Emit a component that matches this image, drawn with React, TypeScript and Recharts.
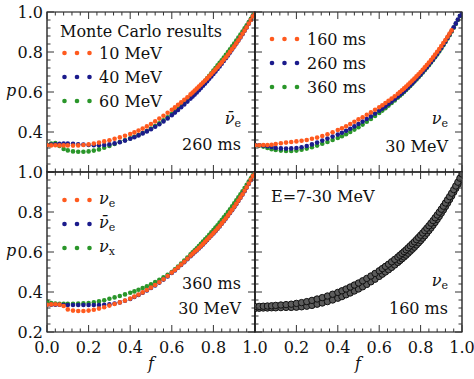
import React from 'react'
import { ScatterChart, Scatter, XAxis, YAxis, ReferenceArea } from 'recharts'

const W = 474
const H = 379
const FONT = '"DejaVu Serif", serif'
const TICK = '#333'

const ORANGE = '#ff5a1e'
const BLUE = '#1b1b8c'
const GREEN = '#2a962a'

// flux factor f at which the Monte Carlo moments are sampled
const F_VALUES = [
  0, 0.02, 0.04, 0.06, 0.08, 0.1, 0.125, 0.15, 0.175,
  0.2, 0.225, 0.25, 0.275, 0.3, 0.325, 0.35, 0.375, 0.4,
  0.42, 0.44, 0.46, 0.48, 0.5, 0.52, 0.54, 0.56, 0.58, 0.6,
  0.615, 0.63, 0.645, 0.66, 0.675, 0.69, 0.7,
  0.71, 0.72, 0.73, 0.74, 0.75, 0.76, 0.77, 0.78, 0.79, 0.8, 0.81, 0.82, 0.83, 0.84, 0.85,
  0.86, 0.87, 0.88, 0.89, 0.9, 0.91, 0.92, 0.93, 0.94, 0.95, 0.96, 0.97, 0.98, 0.99, 1,
]

const X_TICKS = [0, 0.04, 0.08, 0.12, 0.16, 0.2, 0.24, 0.28, 0.32, 0.36, 0.4, 0.44, 0.48, 0.52, 0.56, 0.6, 0.64, 0.68, 0.72, 0.76, 0.8, 0.84, 0.88, 0.92, 0.96, 1]
const Y_TICKS = [0.2, 0.24, 0.28, 0.32, 0.36, 0.4, 0.44, 0.48, 0.52, 0.56, 0.6, 0.64, 0.68, 0.72, 0.76, 0.8, 0.84, 0.88, 0.92, 0.96, 1]

// top left: anti-electron neutrinos, 260 ms, by energy
const TL_10MEV = [
  0.334, 0.333, 0.334, 0.333, 0.333, 0.333, 0.332, 0.333, 0.335,
  0.338, 0.342, 0.347, 0.353, 0.359, 0.366, 0.373, 0.381, 0.39,
  0.398, 0.407, 0.417, 0.428, 0.44, 0.453, 0.467, 0.481, 0.496, 0.511,
  0.523, 0.536, 0.548, 0.561, 0.574, 0.588, 0.597,
  0.607, 0.617, 0.627, 0.637, 0.647, 0.657, 0.668, 0.679, 0.69, 0.701, 0.712, 0.724, 0.736, 0.748, 0.761,
  0.774, 0.787, 0.801, 0.815, 0.829, 0.844, 0.859, 0.875, 0.891, 0.907, 0.924, 0.942, 0.96, 0.979, 0.998,
]
const TL_40MEV = [
  0.335, 0.337, 0.339, 0.341, 0.342, 0.342, 0.341, 0.339, 0.337,
  0.335, 0.334, 0.334, 0.335, 0.338, 0.343, 0.349, 0.357, 0.366,
  0.374, 0.383, 0.393, 0.403, 0.414, 0.426, 0.439, 0.453, 0.468, 0.484,
  0.497, 0.51, 0.524, 0.538, 0.552, 0.567, 0.577,
  0.587, 0.598, 0.609, 0.62, 0.631, 0.642, 0.654, 0.666, 0.678, 0.69, 0.702, 0.715, 0.728, 0.741, 0.755,
  0.769, 0.783, 0.797, 0.812, 0.827, 0.842, 0.857, 0.873, 0.889, 0.906, 0.923, 0.941, 0.96, 0.979, 0.998,
]
const TL_60MEV = [
  0.336, 0.342, 0.345, 0.33, 0.315, 0.308, 0.303, 0.301, 0.301,
  0.303, 0.307, 0.313, 0.321, 0.33, 0.34, 0.35, 0.359, 0.368,
  0.376, 0.385, 0.395, 0.405, 0.417, 0.43, 0.444, 0.459, 0.474, 0.49,
  0.503, 0.517, 0.531, 0.546, 0.561, 0.576, 0.587,
  0.598, 0.609, 0.62, 0.632, 0.644, 0.656, 0.668, 0.681, 0.694, 0.707, 0.72, 0.733, 0.746, 0.759, 0.772,
  0.786, 0.8, 0.814, 0.828, 0.842, 0.857, 0.872, 0.887, 0.902, 0.918, 0.934, 0.95, 0.966, 0.983, 1,
]

// top right: electron neutrinos, 30 MeV, by time
const TR_160MS = [
  0.334, 0.334, 0.335, 0.335, 0.336, 0.34, 0.344, 0.347, 0.35,
  0.353, 0.356, 0.36, 0.366, 0.372, 0.38, 0.389, 0.399, 0.41,
  0.419, 0.429, 0.44, 0.451, 0.463, 0.474, 0.486, 0.498, 0.511, 0.524,
  0.534, 0.545, 0.556, 0.567, 0.579, 0.591, 0.6,
  0.609, 0.618, 0.627, 0.637, 0.647, 0.657, 0.667, 0.678, 0.689, 0.7, 0.711, 0.723, 0.735, 0.747, 0.76,
  0.773, 0.787, 0.801, 0.815, 0.83, 0.845, 0.86, 0.876, 0.892, 0.908, null, null, null, null, null,
]
const TR_260MS = [
  0.335, 0.334, 0.332, 0.329, 0.325, 0.32, 0.318, 0.317, 0.318,
  0.32, 0.324, 0.33, 0.338, 0.347, 0.357, 0.367, 0.377, 0.387,
  0.396, 0.406, 0.416, 0.428, 0.44, 0.452, 0.465, 0.478, 0.492, 0.506,
  0.517, 0.528, 0.54, 0.552, 0.564, 0.577, 0.586,
  0.595, 0.604, 0.614, 0.624, 0.634, 0.644, 0.655, 0.666, 0.677, 0.688, 0.7, 0.712, 0.724, 0.737, 0.75,
  0.763, 0.777, 0.791, 0.806, 0.821, 0.837, 0.853, 0.87, 0.887, 0.905, 0.924, 0.943, 0.962, 0.981, 1,
]
const TR_360MS = [
  0.335, 0.332, 0.327, 0.32, 0.314, 0.31, 0.307, 0.305, 0.305,
  0.307, 0.311, 0.317, 0.324, 0.332, 0.341, 0.35, 0.36, 0.37,
  0.379, 0.389, 0.4, 0.412, 0.424, 0.437, 0.451, 0.465, 0.48, 0.495,
  0.507, 0.519, 0.532, 0.545, 0.558, 0.572, 0.581,
  0.59, 0.6, 0.61, 0.62, 0.63, 0.641, 0.652, 0.663, 0.674, 0.685, 0.697, 0.709, 0.721, 0.734, 0.747,
  0.76, 0.774, 0.788, 0.803, 0.818, 0.834, 0.85, 0.867, 0.884, 0.902, 0.921, 0.94, 0.96, 0.98, 1,
]

// bottom left: 360 ms, 30 MeV, by flavour
const BL_NUE = [
  0.336, 0.338, 0.339, 0.337, 0.33, 0.313, 0.307, 0.305, 0.305,
  0.307, 0.311, 0.317, 0.324, 0.332, 0.34, 0.348, 0.357, 0.367,
  0.377, 0.387, 0.398, 0.41, 0.422, 0.435, 0.449, 0.464, 0.48, 0.497,
  0.51, 0.523, 0.537, 0.551, 0.566, 0.581, 0.591,
  0.601, 0.61, 0.62, 0.63, 0.64, 0.651, 0.662, 0.673, 0.684, 0.695, 0.706, 0.718, 0.73, 0.743, 0.756,
  0.769, 0.783, 0.797, 0.811, 0.826, 0.841, 0.857, 0.873, 0.889, 0.906, 0.924, 0.942, 0.961, 0.98, 1,
]
const BL_NUEBAR = [
  0.336, 0.336, 0.336, 0.336, 0.335, 0.335, 0.335, 0.335, 0.335,
  0.335, 0.335, 0.335, 0.336, 0.338, 0.342, 0.348, 0.356, 0.365,
  0.375, 0.385, 0.396, 0.408, 0.42, 0.433, 0.447, 0.462, 0.478, 0.495,
  0.508, 0.521, 0.535, 0.549, 0.564, 0.579, 0.589,
  0.599, 0.608, 0.618, 0.628, 0.638, 0.649, 0.66, 0.671, 0.682, 0.693, 0.704, 0.716, 0.728, 0.741, 0.754,
  0.767, 0.781, 0.795, 0.809, 0.824, 0.839, 0.855, 0.871, 0.887, 0.904, 0.922, 0.94, 0.959, 0.979, 0.998,
]
const BL_NUX = [
  0.352, 0.345, 0.342, 0.341, 0.341, 0.341, 0.341, 0.342, 0.343,
  0.345, 0.348, 0.353, 0.359, 0.366, 0.373, 0.38, 0.388, 0.396,
  0.403, 0.411, 0.42, 0.429, 0.439, 0.45, 0.461, 0.473, 0.486, 0.5,
  0.513, 0.527, 0.542, 0.557, 0.572, 0.588, 0.598,
  0.609, 0.619, 0.63, 0.641, 0.652, 0.663, 0.674, 0.686, 0.698, 0.71, 0.722, 0.734, 0.747, 0.76, 0.773,
  0.786, 0.8, 0.814, 0.828, 0.843, 0.858, 0.873, 0.888, 0.904, 0.92, 0.936, 0.952, 0.968, 0.984, 1,
]

// bottom right: electron neutrinos, 160 ms, E = 7-30 MeV (edges of the band)
const BR_LOW = [
  0.318, 0.319, 0.32, 0.32, 0.321, 0.321, 0.322, 0.323, 0.323,
  0.324, 0.326, 0.329, 0.333, 0.339, 0.345, 0.352, 0.36, 0.369,
  0.377, 0.386, 0.395, 0.405, 0.415, 0.426, 0.438, 0.451, 0.464, 0.478,
  0.489, 0.5, 0.511, 0.523, 0.535, 0.548, 0.557,
  0.566, 0.575, 0.584, 0.594, 0.604, 0.614, 0.624, 0.635, 0.646, 0.657, 0.669, 0.681, 0.694, 0.707, 0.72,
  0.734, 0.748, 0.763, 0.778, 0.794, 0.81, 0.827, 0.844, 0.862, 0.88, 0.899, 0.918, 0.938, 0.959, 0.98,
]
const BR_HIGH = [
  0.327, 0.328, 0.329, 0.33, 0.331, 0.333, 0.335, 0.337, 0.339,
  0.343, 0.347, 0.352, 0.358, 0.365, 0.372, 0.38, 0.389, 0.398,
  0.406, 0.415, 0.425, 0.435, 0.445, 0.456, 0.468, 0.48, 0.493, 0.506,
  0.517, 0.528, 0.539, 0.551, 0.563, 0.575, 0.584,
  0.593, 0.602, 0.611, 0.621, 0.631, 0.641, 0.651, 0.662, 0.673, 0.684, 0.695, 0.707, 0.719, 0.731, 0.744,
  0.757, 0.771, 0.785, 0.799, 0.814, 0.829, 0.845, 0.861, 0.877, 0.894, 0.912, 0.93, 0.949, 0.969, 0.99,
]

type Box = { left: number; top: number; width: number; height: number }

const BOX_TL: Box = { left: 47, top: 12, width: 208, height: 160 }
const BOX_TR: Box = { left: 255, top: 12, width: 207, height: 160 }
const BOX_BL: Box = { left: 47, top: 172, width: 208, height: 160 }
const BOX_BR: Box = { left: 255, top: 172, width: 207, height: 160 }

const toPoints = (ps: (number | null)[]) =>
  F_VALUES.map((f, i) => ({ f, p: ps[i] })).filter((d) => d.p != null)

const isMajor = (v: number) => Math.abs(v * 5 - Math.round(v * 5)) < 1e-6
const same = (a: number, b: number) => Math.abs(a - b) < 1e-6

// ticks point inward, drawn on both opposite sides of the panel
function xTick(h: number, labels: boolean, hide: number[]) {
  return (props: any) => {
    const { x, y, payload } = props
    const v = payload.value
    const len = isMajor(v) ? 7 : 3.5
    const show = labels && isMajor(v) && !hide.some((hv) => same(hv, v))
    return (
      <g>
        <line x1={x} x2={x} y1={y} y2={y - len} stroke={TICK} />
        <line x1={x} x2={x} y1={y - h} y2={y - h + len} stroke={TICK} />
        {show && (
          <text x={x} y={y + 21} textAnchor="middle" fontFamily={FONT} fontSize={16} fill="#111">
            {v.toFixed(1)}
          </text>
        )}
      </g>
    )
  }
}

function yTick(w: number, labels: boolean, hide: number[]) {
  return (props: any) => {
    const { x, y, payload } = props
    const v = payload.value
    const len = isMajor(v) ? 7 : 3.5
    const show = labels && isMajor(v) && !hide.some((hv) => same(hv, v))
    return (
      <g>
        <line x1={x} x2={x + len} y1={y} y2={y} stroke={TICK} />
        <line x1={x + w} x2={x + w - len} y1={y} y2={y} stroke={TICK} />
        {show && (
          <text x={x - 4} y={y + 6} textAnchor="end" fontFamily={FONT} fontSize={16} fill="#111">
            {v.toFixed(1)}
          </text>
        )}
      </g>
    )
  }
}

const dot = (fill: string, r = 2.3, stroke = 'none') => (props: any) => (
  <circle cx={props.cx} cy={props.cy} r={r} fill={fill} stroke={stroke} strokeWidth={1} />
)

type Series = { values: (number | null)[]; fill: string; r?: number; stroke?: string }

function Panel({
  box,
  series,
  xLabels = false,
  yLabels = false,
  hideX = [],
  hideY = [],
}: {
  box: Box
  series: Series[]
  xLabels?: boolean
  yLabels?: boolean
  hideX?: number[]
  hideY?: number[]
}) {
  // axes take 1px so recharts still draws them; the rest of the offset is margin
  const margin = {
    left: box.left - 1,
    top: box.top,
    right: W - box.left - box.width,
    bottom: H - box.top - box.height - 1,
  }
  return (
    <div style={{ position: 'absolute', left: 0, top: 0 }}>
      <ScatterChart width={W} height={H} margin={margin}>
        <XAxis
          type="number"
          dataKey="f"
          domain={[0, 1]}
          ticks={X_TICKS}
          interval={0}
          height={1}
          axisLine={false}
          tickLine={false}
          tickSize={0}
          tickMargin={0}
          allowDataOverflow
          tick={xTick(box.height, xLabels, hideX)}
        />
        <YAxis
          type="number"
          dataKey="p"
          domain={[0.2, 1]}
          ticks={Y_TICKS}
          interval={0}
          width={1}
          axisLine={false}
          tickLine={false}
          tickSize={0}
          tickMargin={0}
          allowDataOverflow
          tick={yTick(box.width, yLabels, hideY)}
        />
        {series.map((s, i) => (
          <Scatter
            key={i}
            data={toPoints(s.values)}
            isAnimationActive={false}
            shape={dot(s.fill, s.r, s.stroke)}
          />
        ))}
        <ReferenceArea
          x1={0}
          x2={1}
          y1={0.2}
          y2={1}
          fill="none"
          stroke="#000"
          strokeWidth={1.2}
          ifOverflow="visible"
        />
      </ScatterChart>
    </div>
  )
}

function Nu({ x, y, sub, bar = false, anchor = 'start' }: { x: number; y: number; sub: string; bar?: boolean; anchor?: 'start' | 'end' }) {
  return (
    <text x={x} y={y} textAnchor={anchor} fontFamily={FONT} fontSize={16} fill="#111">
      <tspan fontStyle="italic">{bar ? 'ν\u0304' : 'ν'}</tspan>
      <tspan fontSize={11} dy={3}>{sub}</tspan>
    </text>
  )
}

function LegendDots({ x, y, fill }: { x: number; y: number; fill: string }) {
  return (
    <g>
      {[0, 12.5, 25].map((dx) => (
        <circle key={dx} cx={x + dx} cy={y} r={2.3} fill={fill} />
      ))}
    </g>
  )
}

function Overlay() {
  const txt = { fontFamily: FONT, fontSize: 16, fill: '#111' }
  return (
    <svg width={W} height={H} style={{ position: 'absolute', left: 0, top: 0, pointerEvents: 'none' }}>
      {/* top left */}
      <text x={60} y={36.5} {...txt}>Monte Carlo results</text>
      <LegendDots x={64.5} y={53} fill={ORANGE} />
      <LegendDots x={64.5} y={77} fill={BLUE} />
      <LegendDots x={64.5} y={101} fill={GREEN} />
      <text x={99} y={59} {...txt}>10 MeV</text>
      <text x={99} y={83} {...txt}>40 MeV</text>
      <text x={99} y={107} {...txt}>60 MeV</text>
      <Nu x={241} y={124} sub="e" bar anchor="end" />
      <text x={241} y={150} textAnchor="end" {...txt}>260 ms</text>

      {/* top right */}
      <LegendDots x={272} y={39} fill={ORANGE} />
      <LegendDots x={272} y={63} fill={BLUE} />
      <LegendDots x={272} y={87} fill={GREEN} />
      <text x={307} y={45} {...txt}>160 ms</text>
      <text x={307} y={69} {...txt}>260 ms</text>
      <text x={307} y={93} {...txt}>360 ms</text>
      <Nu x={448} y={124} sub="e" anchor="end" />
      <text x={448} y={152} textAnchor="end" {...txt}>30 MeV</text>

      {/* bottom left */}
      <LegendDots x={64.5} y={200} fill={ORANGE} />
      <LegendDots x={64.5} y={224} fill={BLUE} />
      <LegendDots x={64.5} y={248} fill={GREEN} />
      <Nu x={99} y={204} sub="e" />
      <Nu x={99} y={228} sub="e" bar />
      <Nu x={99} y={252} sub="x" />
      <text x={241} y={288.5} textAnchor="end" {...txt}>360 ms</text>
      <text x={241} y={313.5} textAnchor="end" {...txt}>30 MeV</text>

      {/* bottom right */}
      <text x={271} y={201.5} {...txt}>E=7-30 MeV</text>
      <Nu x={448} y={286} sub="e" anchor="end" />
      <text x={448} y={314} textAnchor="end" {...txt}>160 ms</text>

      {/* axis titles */}
      <text x={151} y={369} textAnchor="middle" fontStyle="italic" {...txt}>f</text>
      <text x={358} y={369} textAnchor="middle" fontStyle="italic" {...txt}>f</text>
      <text x={11} y={96} textAnchor="middle" fontStyle="italic" {...txt}>p</text>
      <text x={11} y={256} textAnchor="middle" fontStyle="italic" {...txt}>p</text>
    </svg>
  )
}

export default function App() {
  return (
    <div style={{ position: 'absolute', left: 0, top: 0, width: W, height: H, background: '#fff' }}>
      <Panel
        box={BOX_TL}
        yLabels
        hideY={[0.2]}
        series={[
          { values: TL_60MEV, fill: GREEN },
          { values: TL_40MEV, fill: BLUE },
          { values: TL_10MEV, fill: ORANGE },
        ]}
      />
      <Panel
        box={BOX_TR}
        series={[
          { values: TR_360MS, fill: GREEN },
          { values: TR_260MS, fill: BLUE },
          { values: TR_160MS, fill: ORANGE },
        ]}
      />
      <Panel
        box={BOX_BL}
        xLabels
        yLabels
        series={[
          { values: BL_NUX, fill: GREEN },
          { values: BL_NUEBAR, fill: BLUE },
          { values: BL_NUE, fill: ORANGE },
        ]}
      />
      <Panel
        box={BOX_BR}
        xLabels
        hideX={[0]}
        series={[
          { values: BR_LOW, fill: '#5c5c5c', r: 3.2, stroke: '#111' },
          { values: BR_HIGH, fill: '#5c5c5c', r: 3.2, stroke: '#111' },
        ]}
      />
      <Overlay />
    </div>
  )
}
